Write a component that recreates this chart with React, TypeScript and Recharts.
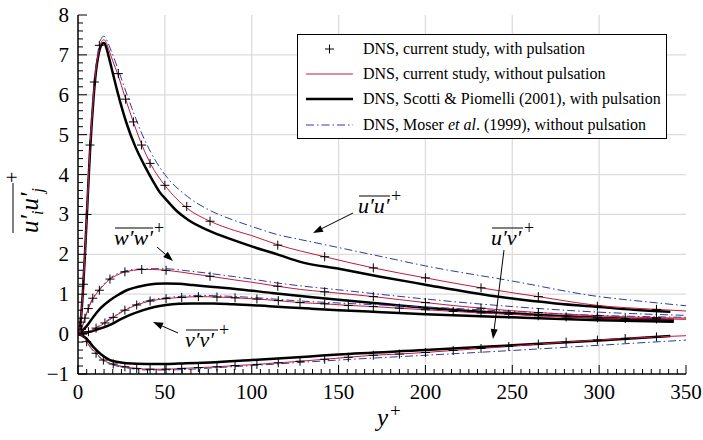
import React from "react"
import {
  ComposedChart,
  Line,
  Scatter,
  XAxis,
  YAxis,
  ReferenceLine,
  Legend,
} from "recharts"

const FONT = "'Liberation Serif', 'DejaVu Serif', Times, serif"
const RED = "#c21a3e"
const BLUE = "#2a3c9e"
const GRID = "#dcdcdc"

// axis ticks: labelled every 50 / every 1, small marks between
const xTicks = Array.from({ length: 71 }, (_, i) => i * 5)
const yTicks = Array.from({ length: 46 }, (_, i) => Math.round((i * 0.2 - 1) * 10) / 10)
const xGrid = [50, 100, 150, 200, 250, 300]
const yGrid = [1, 2, 3, 4, 5, 6, 7]

// --- DNS, current study, without pulsation ---
const uuRedX = [0, 1, 2, 3, 4, 5, 6, 7, 8, 9, 10, 12, 14, 15, 16, 18, 20, 23, 27, 32, 37, 42, 50, 63, 76, 90, 100, 115, 142, 170, 200, 232, 265, 299, 333, 350]
const uuRedY = [0, 0.14, 0.55, 1.2, 2.0, 2.9, 3.8, 4.7, 5.4, 6.0, 6.5, 7.1, 7.36, 7.38, 7.33, 7.1, 6.85, 6.5, 5.95, 5.3, 4.72, 4.25, 3.73, 3.15, 2.83, 2.6, 2.47, 2.24, 1.94, 1.66, 1.41, 1.16, 0.94, 0.72, 0.62, 0.58]
const wwRedX = [0, 1, 2, 3, 4, 6, 8, 10, 12.3, 15, 18.4, 22, 27, 32, 37, 43, 50.7, 60, 76, 90, 100, 115, 128, 142, 170, 200, 232, 265, 299, 333, 350]
const wwRedY = [0, 0.03, 0.12, 0.26, 0.4, 0.64, 0.84, 0.98, 1.1, 1.24, 1.38, 1.47, 1.56, 1.6, 1.62, 1.62, 1.6, 1.55, 1.45, 1.36, 1.3, 1.2, 1.12, 1.06, 0.94, 0.79, 0.65, 0.54, 0.46, 0.41, 0.4]
const vvRedX = [0, 3, 6, 10.4, 15.5, 20.3, 27, 33.8, 41.5, 50.7, 59.7, 69.3, 80, 90.4, 103, 115.3, 127.8, 142, 155.6, 170, 185, 200, 216, 232, 248, 265, 281, 299, 315, 333, 350]
const vvRedY = [0, 0.02, 0.06, 0.15, 0.28, 0.42, 0.6, 0.73, 0.83, 0.89, 0.92, 0.94, 0.93, 0.91, 0.88, 0.84, 0.79, 0.76, 0.72, 0.69, 0.65, 0.61, 0.57, 0.53, 0.5, 0.46, 0.43, 0.41, 0.39, 0.38, 0.37]
const uvRedX = [0, 2, 5, 7.5, 10.4, 14.6, 20, 27, 33.8, 41.5, 50.7, 59.7, 70, 80, 90, 103, 115, 128, 142, 156, 170, 185, 200, 216, 232, 248, 265, 281, 299, 315, 333, 350]
const uvRedY = [0, -0.02, -0.19, -0.35, -0.48, -0.65, -0.75, -0.82, -0.86, -0.88, -0.88, -0.86, -0.84, -0.82, -0.79, -0.76, -0.72, -0.68, -0.63, -0.58, -0.53, -0.5, -0.46, -0.41, -0.36, -0.31, -0.25, -0.2, -0.15, -0.11, -0.07, -0.04]

// --- DNS, Moser et al. (1999) ---
const uuBlueX = [0, 1, 2, 3, 4, 5, 6, 7, 8, 9, 10, 12, 14, 15, 16, 18, 20, 23, 27, 32, 37, 42, 50, 63, 76, 90, 100, 116, 128, 150, 175, 200, 250, 300, 325, 350]
const uuBlueY = [0, 0.14, 0.56, 1.22, 2.05, 2.95, 3.9, 4.8, 5.5, 6.1, 6.6, 7.2, 7.45, 7.47, 7.42, 7.22, 7.0, 6.65, 6.15, 5.55, 5.0, 4.55, 4.0, 3.45, 3.1, 2.85, 2.7, 2.48, 2.37, 2.17, 1.94, 1.71, 1.33, 0.94, 0.82, 0.71]
const wwBlueX = [0, 1, 2, 3, 4, 6, 8, 10, 12.3, 15, 18.4, 22, 27, 32, 40, 50, 60, 76, 100, 115, 128, 150, 200, 250, 300, 350]
const wwBlueY = [0, 0.03, 0.12, 0.26, 0.41, 0.65, 0.86, 1.0, 1.12, 1.26, 1.4, 1.5, 1.58, 1.62, 1.64, 1.64, 1.6, 1.52, 1.38, 1.28, 1.21, 1.11, 0.88, 0.69, 0.55, 0.47]
const vvBlueX = [0, 3, 6, 10, 15, 20, 30, 40, 50, 60, 70, 80, 100, 128, 150, 200, 250, 300, 350]
const vvBlueY = [0, 0.02, 0.06, 0.15, 0.29, 0.43, 0.68, 0.84, 0.91, 0.95, 0.97, 0.96, 0.92, 0.83, 0.78, 0.68, 0.57, 0.47, 0.42]
const uvBlueX = [0, 2, 5, 10, 15, 20, 30, 40, 50, 60, 80, 100, 128, 150, 200, 250, 300, 350]
const uvBlueY = [0, -0.02, -0.2, -0.48, -0.67, -0.77, -0.86, -0.9, -0.9, -0.89, -0.84, -0.79, -0.71, -0.65, -0.53, -0.41, -0.28, -0.15]

// --- DNS, Scotti & Piomelli (2001), with pulsation ---
const uuBlackX = [0, 1, 2, 3, 4, 5, 6, 7, 8, 9, 10, 12, 14, 15, 16, 18, 20, 23, 28, 33, 38, 43, 47, 51, 57, 63.5, 75, 90, 100, 116, 128, 151, 174, 200, 225, 250, 275, 300, 320, 341]
const uuBlackY = [0, 0.14, 0.55, 1.2, 2.0, 2.9, 3.8, 4.65, 5.35, 5.95, 6.45, 7.05, 7.28, 7.3, 7.22, 6.9, 6.55, 6.03, 5.28, 4.7, 4.25, 3.85, 3.56, 3.36, 3.08, 2.86, 2.6, 2.35, 2.2, 1.98, 1.81, 1.63, 1.44, 1.24, 1.05, 0.89, 0.77, 0.68, 0.61, 0.56]
const wwBlackX = [0, 5, 8.8, 13, 18.4, 23, 28, 34, 39.5, 45, 50.7, 58, 66, 78, 89.4, 110, 133.6, 150, 175, 200, 225, 250, 275, 300, 320, 343]
const wwBlackY = [0, 0.2, 0.43, 0.65, 0.85, 0.98, 1.1, 1.18, 1.23, 1.26, 1.27, 1.26, 1.23, 1.18, 1.14, 1.04, 0.93, 0.86, 0.76, 0.66, 0.58, 0.52, 0.46, 0.41, 0.38, 0.36]
const vvBlackX = [0, 5, 10, 18.4, 25, 30, 37.6, 44, 50.7, 58, 66, 78, 89.4, 110, 133.6, 150, 175, 200, 250, 300, 343]
const vvBlackY = [0, 0.04, 0.1, 0.23, 0.38, 0.48, 0.6, 0.68, 0.73, 0.76, 0.77, 0.77, 0.75, 0.7, 0.64, 0.6, 0.55, 0.5, 0.42, 0.35, 0.31]
const uvBlackX = [0, 3, 5, 8.8, 13, 18.4, 23, 28, 39.5, 50.7, 62, 76, 100, 133.6, 150, 200, 250, 300, 341]
const uvBlackY = [0, -0.05, -0.12, -0.32, -0.5, -0.65, -0.7, -0.73, -0.75, -0.75, -0.73, -0.71, -0.65, -0.56, -0.51, -0.4, -0.28, -0.16, -0.05]

// --- DNS, current study, with pulsation (markers) ---
const uuPulseX = [1.5, 3.1, 5.2, 6.9, 9.4, 12.3, 23.2, 27.4, 31.9, 36.6, 41.5, 50, 62.6, 76, 115, 142, 170, 200, 232, 265, 299, 333]
const uuPulseY = [0.3, 1.25, 3.0, 4.74, 6.32, 7.24, 6.53, 5.89, 5.32, 4.74, 4.28, 3.73, 3.2, 2.83, 2.23, 1.94, 1.66, 1.41, 1.16, 0.94, 0.7, 0.62]
const wwPulseX = [2, 4, 5.9, 8.5, 12.3, 18.4, 27, 36.7, 50.7, 76, 115, 142, 170, 200, 232, 265, 299, 333]
const wwPulseY = [0.12, 0.4, 0.64, 0.9, 1.1, 1.38, 1.56, 1.62, 1.6, 1.45, 1.2, 1.06, 0.94, 0.79, 0.65, 0.54, 0.46, 0.41]
const vvPulseX = [3, 6, 10.4, 15.5, 20.3, 27, 33.8, 41.5, 50.7, 59.7, 69.3, 80, 90.4, 103, 115.3, 127.8, 142, 155.6, 170, 185, 200, 216, 232, 248, 265, 281, 299, 315, 333]
const vvPulseY = [0.02, 0.06, 0.15, 0.28, 0.42, 0.6, 0.73, 0.83, 0.89, 0.92, 0.94, 0.93, 0.91, 0.88, 0.84, 0.79, 0.76, 0.72, 0.69, 0.65, 0.61, 0.57, 0.53, 0.5, 0.46, 0.43, 0.41, 0.39, 0.38]
const uvPulseX = [5, 10.4, 14.6, 20.3, 27, 33.8, 41.5, 50.7, 59.7, 69.3, 80, 90.4, 103, 115.3, 127.8, 142, 155.6, 170, 185, 200, 216, 232, 248, 265, 281, 299, 315, 333]
const uvPulseY = [-0.19, -0.48, -0.65, -0.75, -0.82, -0.86, -0.88, -0.88, -0.86, -0.84, -0.82, -0.79, -0.76, -0.72, -0.68, -0.63, -0.58, -0.53, -0.5, -0.46, -0.41, -0.36, -0.31, -0.25, -0.2, -0.15, -0.11, -0.07]

const pts = (xs: number[], ys: number[]) => xs.map((x, i) => ({ x, y: ys[i] }))

const redCurves = [pts(uuRedX, uuRedY), pts(wwRedX, wwRedY), pts(vvRedX, vvRedY), pts(uvRedX, uvRedY)]
const blueCurves = [pts(uuBlueX, uuBlueY), pts(wwBlueX, wwBlueY), pts(vvBlueX, vvBlueY), pts(uvBlueX, uvBlueY)]
const blackCurves = [pts(uuBlackX, uuBlackY), pts(wwBlackX, wwBlackY), pts(vvBlackX, vvBlackY), pts(uvBlackX, uvBlackY)]
const pulseMarks = [pts(uuPulseX, uuPulseY), pts(wwPulseX, wwPulseY), pts(vvPulseX, vvPulseY), pts(uvPulseX, uvPulseY)]

const DASH_DOT = "8 3 1.5 3"
const axisLine = { stroke: "#000", strokeWidth: 1.5 }

const isMajorX = (v: number) => v % 50 === 0
const isMajorY = (v: number) => Math.abs(v - Math.round(v)) < 1e-6

function BottomTick({ x, y, payload }: any) {
  const major = isMajorX(payload.value)
  return (
    <g>
      <line x1={x} x2={x} y1={y} y2={y - (major ? 9 : 5)} stroke="#000" />
      {major && (
        <text x={x} y={y + 25} textAnchor="middle" fontSize={21} fontFamily={FONT} fill="#000">
          {payload.value}
        </text>
      )}
    </g>
  )
}

function TopTick({ x, y, payload }: any) {
  const major = isMajorX(payload.value)
  return <line x1={x} x2={x} y1={y} y2={y + (major ? 9 : 5)} stroke="#000" />
}

function LeftTick({ x, y, payload }: any) {
  const major = isMajorY(payload.value)
  const v = Math.round(payload.value)
  return (
    <g>
      <line x1={x} x2={x + (major ? 9 : 5)} y1={y} y2={y} stroke="#000" />
      {major && (
        <text x={x - 9} y={y + 7} textAnchor="end" fontSize={21} fontFamily={FONT} fill="#000">
          {v < 0 ? `\u2212${-v}` : v}
        </text>
      )}
    </g>
  )
}

function RightTick({ x, y, payload }: any) {
  const major = isMajorY(payload.value)
  return <line x1={x} x2={x - (major ? 9 : 5)} y1={y} y2={y} stroke="#000" />
}

function Cross({ cx, cy }: any) {
  if (cx == null || cy == null) return null
  return <path d={`M${cx - 4.5},${cy}h9M${cx},${cy - 4.5}v9`} stroke="#000" strokeWidth={1} fill="none" />
}

function LegendBox() {
  const row: React.CSSProperties = { display: "flex", alignItems: "center", height: 25.3 }
  const label: React.CSSProperties = { marginLeft: 10, whiteSpace: "nowrap" }
  return (
    <div
      style={{
        width: 370,
        height: 105,
        boxSizing: "border-box",
        border: "1px solid #000",
        background: "#fff",
        padding: "1px 0 0 8px",
        fontFamily: FONT,
        fontSize: 16,
        color: "#000",
      }}
    >
      <div style={row}>
        <svg width={47} height={12}>
          <path d="M19,6h9M23.5,1.5v9" stroke="#000" fill="none" />
        </svg>
        <span style={label}>DNS, current study, with pulsation</span>
      </div>
      <div style={row}>
        <svg width={47} height={12}>
          <line x1={0} x2={47} y1={6} y2={6} stroke={RED} strokeWidth={1} />
        </svg>
        <span style={label}>DNS, current study, without pulsation</span>
      </div>
      <div style={row}>
        <svg width={47} height={12}>
          <line x1={0} x2={47} y1={6} y2={6} stroke="#000" strokeWidth={2.5} />
        </svg>
        <span style={label}>DNS, Scotti &amp; Piomelli (2001), with pulsation</span>
      </div>
      <div style={row}>
        <svg width={47} height={12}>
          <line x1={0} x2={47} y1={6} y2={6} stroke={BLUE} strokeWidth={1} strokeDasharray={DASH_DOT} />
        </svg>
        <span style={label}>
          DNS, Moser <i>et al</i>. (1999), without pulsation
        </span>
      </div>
    </div>
  )
}

function Arrow({ x1, y1, x2, y2 }: { x1: number; y1: number; x2: number; y2: number }) {
  const a = Math.atan2(y2 - y1, x2 - x1)
  const len = 10
  const w = 3.5
  const bx = x2 - len * Math.cos(a)
  const by = y2 - len * Math.sin(a)
  const px = -Math.sin(a) * w
  const py = Math.cos(a) * w
  return (
    <g>
      <line x1={x1} y1={y1} x2={bx} y2={by} stroke="#000" strokeWidth={1} />
      <polygon points={`${x2},${y2} ${bx + px},${by + py} ${bx - px},${by - py}`} fill="#000" />
    </g>
  )
}

// overlined Reynolds-stress symbol with a superscript plus
function Stress({ x, y, text, w }: { x: number; y: number; text: string; w: number }) {
  return (
    <g fontFamily={FONT} fill="#000">
      <text x={x} y={y} fontSize={22} fontStyle="italic">
        {text}
      </text>
      <line x1={x + 1} x2={x + w} y1={y - 17} y2={y - 17} stroke="#000" strokeWidth={1} />
      <text x={x + w + 1} y={y - 11} fontSize={18}>
        +
      </text>
    </g>
  )
}

function Annotations() {
  return (
    <svg
      width={703}
      height={440}
      style={{ position: "absolute", left: 0, top: 0, pointerEvents: "none" }}
    >
      <Stress x={358} y={213} text={"u\u2032u\u2032"} w={32} />
      <Arrow x1={353} y1={213} x2={313} y2={233} />

      <Stress x={491} y={245} text={"u\u2032v\u2032"} w={32} />
      <Arrow x1={504} y1={250} x2={493} y2={339} />

      <Stress x={114} y={245} text={"w\u2032w\u2032"} w={39} />
      <Arrow x1={157} y1={247} x2={173} y2={261} />

      <Stress x={185} y={347} text={"v\u2032v\u2032"} w={33} />
      <Arrow x1={178} y1={333} x2={153} y2={322} />

      {/* y-axis title */}
      <g transform="translate(38,208) rotate(-90)" fontFamily={FONT} fill="#000">
        <text x={-25} y={0} fontSize={25} fontStyle="italic">
          u{"\u2032"}
          <tspan fontSize={16} dy={5}>
            i
          </tspan>
          <tspan dy={-5}>u{"\u2032"}</tspan>
          <tspan fontSize={16} dy={5}>
            j
          </tspan>
        </text>
        <line x1={-25} x2={25} y1={-25} y2={-25} stroke="#000" strokeWidth={1} />
        <text x={25} y={-19} fontSize={20}>
          +
        </text>
      </g>

      {/* x-axis title */}
      <g fontFamily={FONT} fill="#000">
        <text x={377} y={426} fontSize={25} fontStyle="italic">
          y
        </text>
        <text x={390} y={417} fontSize={19}>
          +
        </text>
      </g>
    </svg>
  )
}

export default function App() {
  return (
    <div style={{ position: "absolute", left: 0, top: 0, width: 703, height: 440, background: "#fff" }}>
      <ComposedChart width={703} height={440} margin={{ top: 15, right: 17, bottom: 6, left: 18 }}>
        {xGrid.map((v) => (
          <ReferenceLine key={`gx${v}`} x={v} stroke={GRID} strokeWidth={1.3} />
        ))}
        {yGrid.map((v) => (
          <ReferenceLine key={`gy${v}`} y={v} stroke={GRID} strokeWidth={1.3} />
        ))}

        <XAxis
          type="number"
          dataKey="x"
          domain={[0, 350]}
          ticks={xTicks}
          interval={0}
          tickSize={0}
          tickMargin={0}
          tickLine={false}
          tick={<BottomTick />}
          axisLine={axisLine}
          height={60}
          allowDataOverflow
        />
        <XAxis
          xAxisId="top"
          orientation="top"
          type="number"
          domain={[0, 350]}
          ticks={xTicks}
          interval={0}
          tickSize={0}
          tickMargin={0}
          tickLine={false}
          tick={<TopTick />}
          axisLine={axisLine}
          height={0}
          allowDataOverflow
        />
        <YAxis
          type="number"
          dataKey="y"
          domain={[-1, 8]}
          ticks={yTicks}
          interval={0}
          tickSize={0}
          tickMargin={0}
          tickLine={false}
          tick={<LeftTick />}
          axisLine={axisLine}
          width={60}
          allowDataOverflow
        />
        <YAxis
          yAxisId="right"
          orientation="right"
          type="number"
          domain={[-1, 8]}
          ticks={yTicks}
          interval={0}
          tickSize={0}
          tickMargin={0}
          tickLine={false}
          tick={<RightTick />}
          axisLine={axisLine}
          width={0}
          allowDataOverflow
        />

        {blackCurves.map((d, i) => (
          <Line
            key={`k${i}`}
            data={d}
            dataKey="y"
            type="monotone"
            stroke="#000"
            strokeWidth={2.5}
            dot={false}
            activeDot={false}
            isAnimationActive={false}
          />
        ))}
        {blueCurves.map((d, i) => (
          <Line
            key={`b${i}`}
            data={d}
            dataKey="y"
            type="monotone"
            stroke={BLUE}
            strokeWidth={1}
            strokeDasharray={DASH_DOT}
            dot={false}
            activeDot={false}
            isAnimationActive={false}
          />
        ))}
        {redCurves.map((d, i) => (
          <Line
            key={`r${i}`}
            data={d}
            dataKey="y"
            type="monotone"
            stroke={RED}
            strokeWidth={1}
            dot={false}
            activeDot={false}
            isAnimationActive={false}
          />
        ))}
        {pulseMarks.map((d, i) => (
          <Scatter key={`p${i}`} data={d} dataKey="y" shape={<Cross />} isAnimationActive={false} />
        ))}

        <Legend
          layout="horizontal"
          verticalAlign="middle"
          align="center"
          content={<LegendBox />}
          wrapperStyle={{ left: 297, top: 34, width: 370 }}
        />
      </ComposedChart>
      <Annotations />
    </div>
  )
}
